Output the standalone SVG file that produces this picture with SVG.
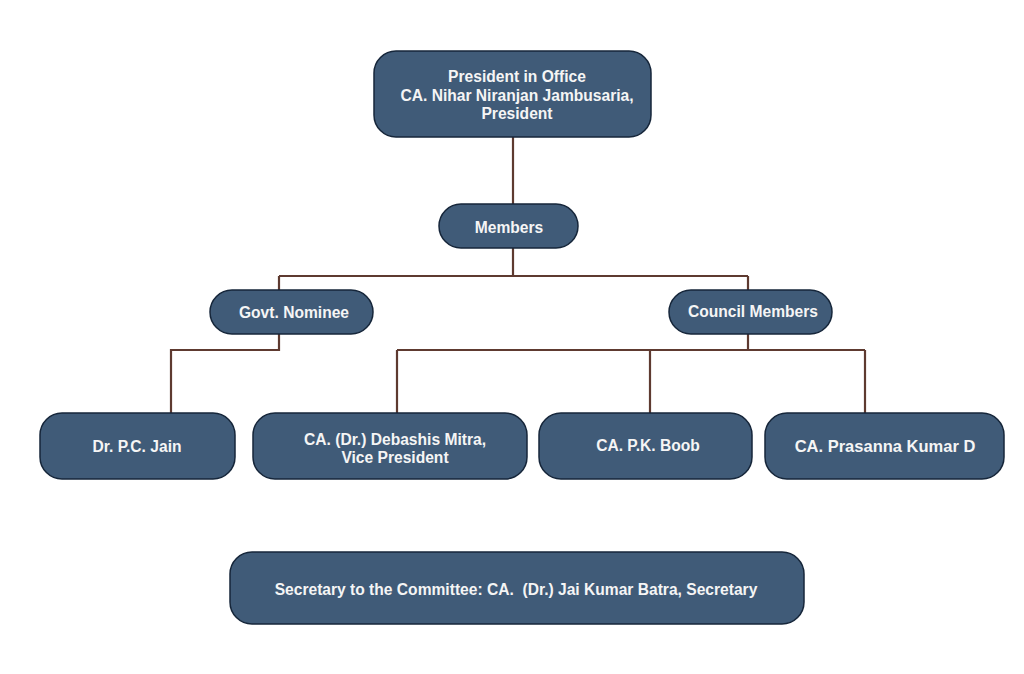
<svg xmlns="http://www.w3.org/2000/svg" width="1024" height="674" viewBox="0 0 1024 674">
<style>
.box{fill:#405b78;stroke:#16263a;stroke-width:1.5}
.t{font-family:"Liberation Sans",Arial,sans-serif;font-weight:bold;font-size:15.6px;fill:#f5f5f5;text-anchor:middle;dominant-baseline:central}
.c{fill:none;stroke:#5e3a30;stroke-width:2.2}
</style>
<rect width="1024" height="674" fill="#ffffff"/>
<g id="connectors">
<path class="c" d="M513,137 V204"/>
<path class="c" d="M513,248 V276 M279,276 H748 M279,276 V290 M748,276 V290"/>
<path class="c" d="M279,334 V350 H171 V413"/>
<path class="c" d="M748,334 V350 M397,350 H865 M397,350 V413 M650,350 V413 M865,350 V413"/>
</g>
<g id="president">
<rect class="box" x="374" y="51" width="277" height="86" rx="22"/>
<text class="t" x="517" y="76">President in Office</text>
<text class="t" x="517" y="95">CA. Nihar Niranjan Jambusaria,</text>
<text class="t" x="517" y="113">President</text>
</g>
<g id="members">
<rect class="box" x="439" y="204" width="139" height="44" rx="22"/>
<text class="t" x="509" y="227">Members</text>
</g>
<g id="govt">
<rect class="box" x="210" y="290" width="163" height="44" rx="22"/>
<text class="t" x="294" y="312">Govt. Nominee</text>
</g>
<g id="council">
<rect class="box" x="669" y="290" width="163" height="44" rx="22"/>
<text class="t" x="753" y="311">Council Members</text>
</g>
<g id="jain">
<rect class="box" x="40" y="413" width="195" height="66" rx="22"/>
<text class="t" x="137" y="446">Dr. P.C. Jain</text>
</g>
<g id="mitra">
<rect class="box" x="253" y="413" width="274" height="66" rx="22"/>
<text class="t" x="395" y="439">CA. (Dr.) Debashis Mitra,</text>
<text class="t" x="395" y="457">Vice President</text>
</g>
<g id="boob">
<rect class="box" x="539" y="413" width="213" height="66" rx="22"/>
<text class="t" x="648" y="445">CA. P.K. Boob</text>
</g>
<g id="prasanna">
<rect class="box" x="765" y="413" width="239" height="66" rx="22"/>
<text class="t" x="885" y="446" style="font-size:16.5px">CA. Prasanna Kumar D</text>
</g>
<g id="secretary">
<rect class="box" x="230" y="552" width="574" height="72" rx="22"/>
<text class="t" x="516" y="589" xml:space="preserve">Secretary to the Committee: CA.  (Dr.) Jai Kumar Batra, Secretary</text>
</g>
</svg>
